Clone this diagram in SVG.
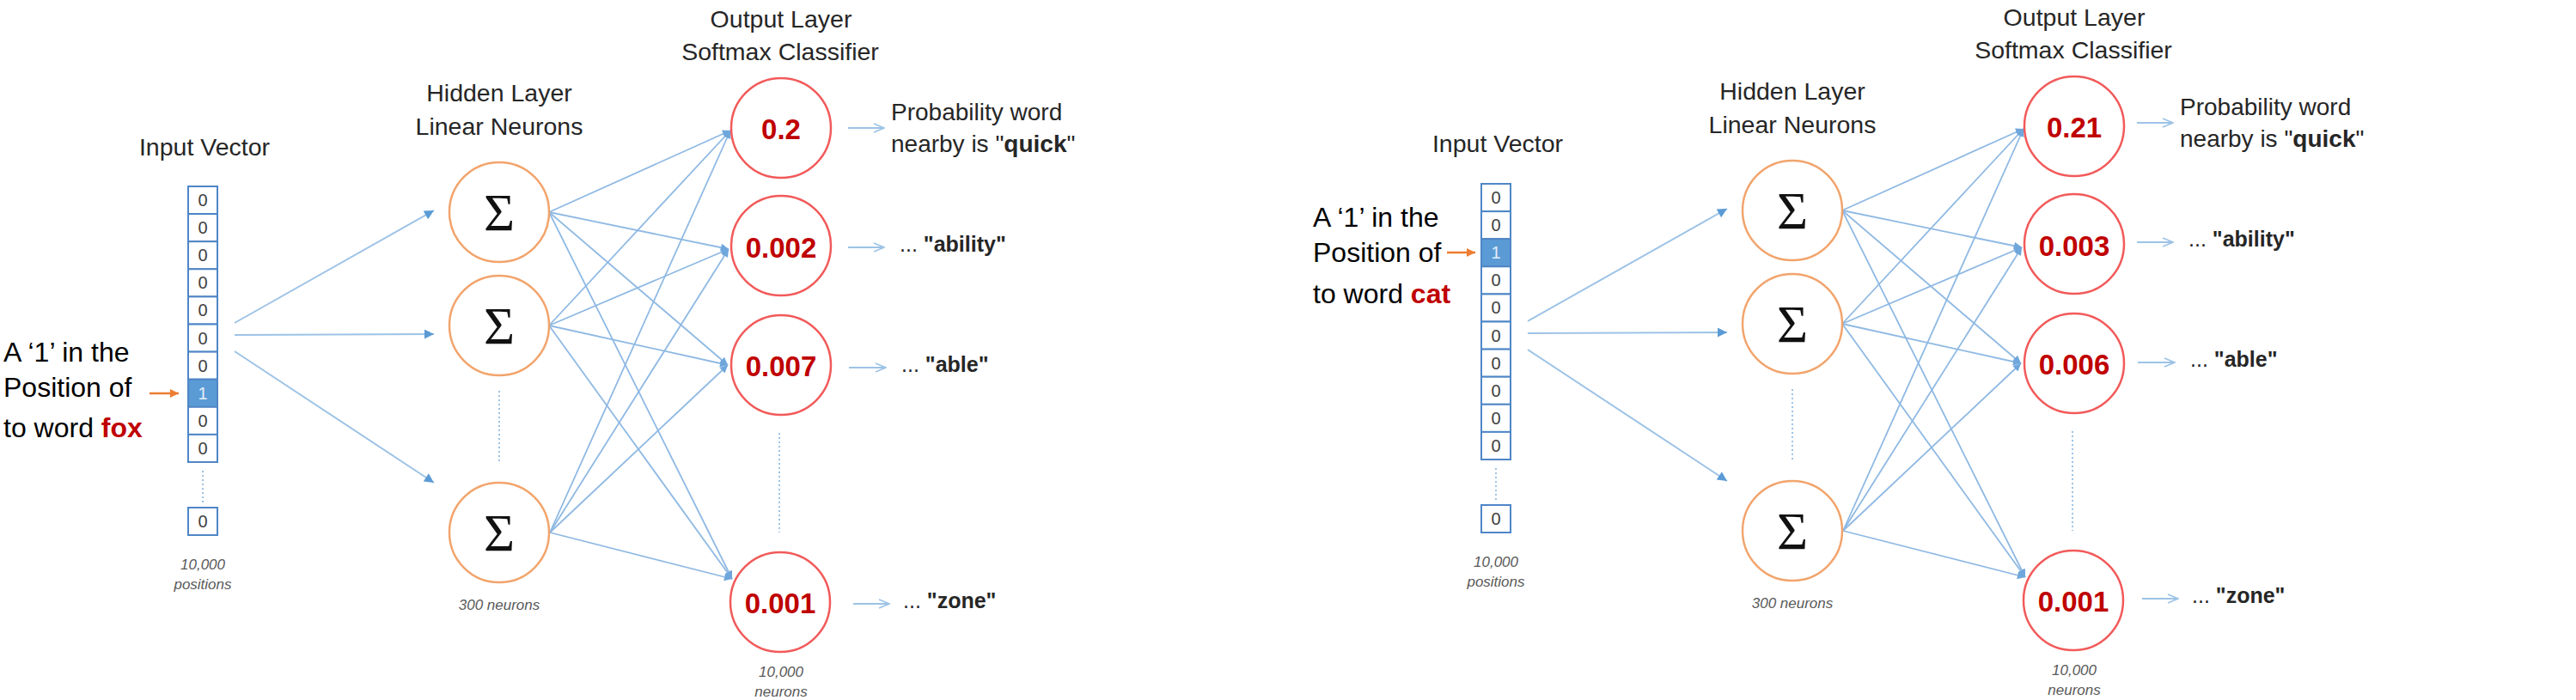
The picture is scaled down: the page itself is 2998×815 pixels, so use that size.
<svg xmlns="http://www.w3.org/2000/svg" width="2998" height="815" viewBox="0 0 2998 815">
<defs>
<style>
text{font-family:"Liberation Sans",Arial,sans-serif;}
.hdr{font-size:28.5px;fill:#262626;text-anchor:middle;}
.lbl{font-size:32px;fill:#000;}
.lbl2{font-size:28px;fill:#262626;}
.lbl3{font-size:25px;fill:#262626;}
.b{font-weight:bold;}
.red{fill:#C00000;font-weight:bold;}
.note{font-size:17px;font-style:italic;fill:#595959;text-anchor:middle;}
.cell{fill:#fff;stroke:#4F86C6;stroke-width:2;}
.cell1{fill:#5B9BD5;stroke:#4F86C6;stroke-width:2;}
.ct{font-size:20px;fill:#404040;text-anchor:middle;}
.ct1{font-size:20px;fill:#E3EEF9;text-anchor:middle;}
.hid{fill:#fff;stroke:#F2A46C;stroke-width:2.5;}
.out{fill:#fff;stroke:#F25A5A;stroke-width:2.5;}
.sig{font-family:"Liberation Serif","DejaVu Serif",serif;font-size:62px;fill:#111;text-anchor:middle;}
.val{font-size:33px;font-weight:bold;fill:#C00000;text-anchor:middle;}
.in{stroke:#9DC3E6;stroke-width:2;fill:none;marker-end:url(#tri);}
.hw{stroke:#8FB9E3;stroke-width:1.8;fill:none;marker-end:url(#tri-s);}
.oa{stroke:#9DC3E6;stroke-width:2;fill:none;marker-end:url(#open);}
.pt{stroke:#ED7D31;stroke-width:2.5;fill:none;marker-end:url(#orng);}
.dot{stroke:#9DC3E6;stroke-width:2;stroke-dasharray:2 3;fill:none;}
</style>
<marker id="tri" viewBox="0 0 10 10" refX="10" refY="5" markerWidth="14" markerHeight="11" markerUnits="userSpaceOnUse" orient="auto"><path d="M0,0 L10,5 L0,10 z" fill="#5B9BD5"/></marker>
<marker id="tri-s" viewBox="0 0 10 10" refX="10" refY="5" markerWidth="12" markerHeight="9" markerUnits="userSpaceOnUse" orient="auto"><path d="M0,0 L10,5 L0,10 z" fill="#6FA6DC"/></marker>
<marker id="open" viewBox="0 0 14 12" refX="13" refY="6" markerWidth="14" markerHeight="12" markerUnits="userSpaceOnUse" orient="auto"><path d="M1,1 L13,6 L1,11" fill="none" stroke="#9DC3E6" stroke-width="1.8"/></marker>
<marker id="orng" viewBox="0 0 10 10" refX="10" refY="5" markerWidth="12" markerHeight="10" markerUnits="userSpaceOnUse" orient="auto"><path d="M0,0 L10,5 L0,10 z" fill="#ED7D31"/></marker>
</defs>
<rect x="0" y="0" width="2998" height="815" fill="#fff"/>

<!-- connectors -->
<g id="connectors">
  <g id="connectors-left">
    <line class="pt" x1="174" y1="458" x2="208" y2="458"/>
    <line class="in" x1="273" y1="376" x2="505" y2="245"/>
    <line class="in" x1="273" y1="390" x2="505" y2="389"/>
    <line class="in" x1="273" y1="409" x2="505" y2="562"/>
    <line class="hw" x1="639" y1="247" x2="850" y2="152"/>
    <line class="hw" x1="639" y1="247" x2="848" y2="290"/>
    <line class="hw" x1="639" y1="247" x2="847" y2="425"/>
    <line class="hw" x1="639" y1="247" x2="852" y2="674"/>
    <line class="hw" x1="639" y1="379" x2="850" y2="152"/>
    <line class="hw" x1="639" y1="379" x2="848" y2="290"/>
    <line class="hw" x1="639" y1="379" x2="847" y2="425"/>
    <line class="hw" x1="639" y1="379" x2="852" y2="674"/>
    <line class="hw" x1="640" y1="620" x2="850" y2="152"/>
    <line class="hw" x1="640" y1="620" x2="848" y2="290"/>
    <line class="hw" x1="640" y1="620" x2="847" y2="425"/>
    <line class="hw" x1="640" y1="620" x2="852" y2="674"/>
    <line class="oa" x1="987" y1="149" x2="1029" y2="149"/>
    <line class="oa" x1="987" y1="288" x2="1029" y2="288"/>
    <line class="oa" x1="988" y1="428" x2="1031" y2="428"/>
    <line class="oa" x1="993" y1="703" x2="1035" y2="703"/>
  </g>
  <g id="connectors-right">
    <line class="pt" x1="1684" y1="294" x2="1717" y2="294"/>
    <g transform="translate(1505,-2)">
      <line class="in" x1="273" y1="376" x2="505" y2="245"/>
      <line class="in" x1="273" y1="390" x2="505" y2="389"/>
      <line class="in" x1="273" y1="409" x2="505" y2="562"/>
      <line class="hw" x1="639" y1="247" x2="850" y2="152"/>
      <line class="hw" x1="639" y1="247" x2="848" y2="290"/>
      <line class="hw" x1="639" y1="247" x2="847" y2="425"/>
      <line class="hw" x1="639" y1="247" x2="852" y2="674"/>
      <line class="hw" x1="639" y1="379" x2="850" y2="152"/>
      <line class="hw" x1="639" y1="379" x2="848" y2="290"/>
      <line class="hw" x1="639" y1="379" x2="847" y2="425"/>
      <line class="hw" x1="639" y1="379" x2="852" y2="674"/>
      <line class="hw" x1="640" y1="620" x2="850" y2="152"/>
      <line class="hw" x1="640" y1="620" x2="848" y2="290"/>
      <line class="hw" x1="640" y1="620" x2="847" y2="425"/>
      <line class="hw" x1="640" y1="620" x2="852" y2="674"/>
    </g>
    <g transform="translate(1500,-6)">
      <line class="oa" x1="987" y1="149" x2="1029" y2="149"/>
      <line class="oa" x1="987" y1="288" x2="1029" y2="288"/>
      <line class="oa" x1="988" y1="428" x2="1031" y2="428"/>
      <line class="oa" x1="993" y1="703" x2="1035" y2="703"/>
    </g>
  </g>
</g>

<!-- ===== LEFT PANEL ===== -->
<g id="L-label">
  <text class="lbl" x="4" y="421">A ‘1’ in the</text>
  <text class="lbl" x="4" y="462">Position of</text>
  <text class="lbl" x="4" y="509">to word <tspan class="red">fox</tspan></text>
</g>
<g id="L-input-vector">
  <text class="hdr" x="238" y="181">Input Vector</text>
  <rect class="cell" x="219" y="217" width="34" height="32.1"/>
  <rect class="cell" x="219" y="249.1" width="34" height="32.1"/>
  <rect class="cell" x="219" y="281.2" width="34" height="32.1"/>
  <rect class="cell" x="219" y="313.3" width="34" height="32.1"/>
  <rect class="cell" x="219" y="345.4" width="34" height="32.1"/>
  <rect class="cell" x="219" y="377.5" width="34" height="32.1"/>
  <rect class="cell" x="219" y="409.6" width="34" height="32.1"/>
  <rect class="cell1" x="219" y="441.7" width="34" height="32.1"/>
  <rect class="cell" x="219" y="473.8" width="34" height="32.1"/>
  <rect class="cell" x="219" y="505.9" width="34" height="32.1"/>
  <text class="ct" x="236" y="240">0</text>
  <text class="ct" x="236" y="272.1">0</text>
  <text class="ct" x="236" y="304.2">0</text>
  <text class="ct" x="236" y="336.3">0</text>
  <text class="ct" x="236" y="368.4">0</text>
  <text class="ct" x="236" y="400.5">0</text>
  <text class="ct" x="236" y="432.6">0</text>
  <text class="ct1" x="236" y="464.7">1</text>
  <text class="ct" x="236" y="496.8">0</text>
  <text class="ct" x="236" y="528.9">0</text>
  <line class="dot" x1="236" y1="548" x2="236" y2="585"/>
  <rect class="cell" x="219" y="591" width="34" height="32"/>
  <text class="ct" x="236" y="614">0</text>
  <text class="note" x="236" y="663">10,000</text>
  <text class="note" x="236" y="686">positions</text>
</g>
<g id="L-hidden-title">
  <text class="hdr" x="581" y="118">Hidden Layer</text>
  <text class="hdr" x="581" y="157">Linear Neurons</text>
</g>
<g id="L-h1"><circle class="hid" cx="581" cy="247" r="58"/><text class="sig" x="581" y="268">Σ</text></g>
<g id="L-h2"><circle class="hid" cx="581" cy="379" r="58"/><text class="sig" x="581" y="400">Σ</text></g>
<g id="L-h-ellipsis"><line class="dot" x1="581" y1="455" x2="581" y2="540"/></g>
<g id="L-h3"><circle class="hid" cx="581" cy="620" r="58"/><text class="sig" x="581" y="641">Σ</text>
  <text class="note" x="581" y="710">300 neurons</text></g>
<g id="L-output-title">
  <text class="hdr" x="909" y="32">Output Layer</text>
  <text class="hdr" x="908" y="70">Softmax Classifier</text>
</g>
<g id="L-o1"><circle class="out" cx="909" cy="149" r="58"/><text class="val" x="909" y="162">0.2</text></g>
<g id="L-o2"><circle class="out" cx="909" cy="286" r="58"/><text class="val" x="909" y="300">0.002</text></g>
<g id="L-o3"><circle class="out" cx="909" cy="425" r="58"/><text class="val" x="909" y="438">0.007</text></g>
<g id="L-o-ellipsis"><line class="dot" x1="907" y1="504" x2="907" y2="620"/></g>
<g id="L-o4"><circle class="out" cx="908" cy="701" r="58"/><text class="val" x="908" y="714">0.001</text>
  <text class="note" x="909" y="788">10,000</text>
  <text class="note" x="909" y="811">neurons</text></g>
<g id="L-out-labels">
  <text class="lbl2" x="1037" y="140">Probability word</text>
  <text class="lbl2" x="1037" y="177">nearby is "<tspan class="b">quick</tspan>"</text>
  <text class="lbl3" x="1047" y="293">... <tspan class="b">"ability"</tspan></text>
  <text class="lbl3" x="1049" y="433">... <tspan class="b">"able"</tspan></text>
  <text class="lbl3" x="1051" y="708">... <tspan class="b">"zone"</tspan></text>
</g>

<!-- ===== RIGHT PANEL ===== -->
<g id="R-label">
  <text class="lbl" x="1528" y="264">A ‘1’ in the</text>
  <text class="lbl" x="1528" y="305">Position of</text>
  <text class="lbl" x="1528" y="353">to word <tspan class="red">cat</tspan></text>
</g>
<g id="R-input-vector" transform="translate(1505,-3)">
  <text class="hdr" x="238" y="179.5">Input Vector</text>
  <rect class="cell" x="219" y="217" width="34" height="32.1"/>
  <rect class="cell" x="219" y="249.1" width="34" height="32.1"/>
  <rect class="cell1" x="219" y="281.2" width="34" height="32.1"/>
  <rect class="cell" x="219" y="313.3" width="34" height="32.1"/>
  <rect class="cell" x="219" y="345.4" width="34" height="32.1"/>
  <rect class="cell" x="219" y="377.5" width="34" height="32.1"/>
  <rect class="cell" x="219" y="409.6" width="34" height="32.1"/>
  <rect class="cell" x="219" y="441.7" width="34" height="32.1"/>
  <rect class="cell" x="219" y="473.8" width="34" height="32.1"/>
  <rect class="cell" x="219" y="505.9" width="34" height="32.1"/>
  <text class="ct" x="236" y="240">0</text>
  <text class="ct" x="236" y="272.1">0</text>
  <text class="ct1" x="236" y="304.2">1</text>
  <text class="ct" x="236" y="336.3">0</text>
  <text class="ct" x="236" y="368.4">0</text>
  <text class="ct" x="236" y="400.5">0</text>
  <text class="ct" x="236" y="432.6">0</text>
  <text class="ct" x="236" y="464.7">0</text>
  <text class="ct" x="236" y="496.8">0</text>
  <text class="ct" x="236" y="528.9">0</text>
  <line class="dot" x1="236" y1="548" x2="236" y2="585"/>
  <rect class="cell" x="219" y="591" width="34" height="32"/>
  <text class="ct" x="236" y="614">0</text>
  <text class="note" x="236" y="663">10,000</text>
  <text class="note" x="236" y="686">positions</text>
</g>
<g id="R-hidden-title" transform="translate(1505,-2)">
  <text class="hdr" x="581" y="118">Hidden Layer</text>
  <text class="hdr" x="581" y="157">Linear Neurons</text>
</g>
<g id="R-h1" transform="translate(1505,-2)"><circle class="hid" cx="581" cy="247" r="58"/><text class="sig" x="581" y="268">Σ</text></g>
<g id="R-h2" transform="translate(1505,-2)"><circle class="hid" cx="581" cy="379" r="58"/><text class="sig" x="581" y="400">Σ</text></g>
<g id="R-h-ellipsis" transform="translate(1505,-2)"><line class="dot" x1="581" y1="455" x2="581" y2="540"/></g>
<g id="R-h3" transform="translate(1505,-2)"><circle class="hid" cx="581" cy="620" r="58"/><text class="sig" x="581" y="641">Σ</text>
  <text class="note" x="581" y="710">300 neurons</text></g>
<g id="R-output-title" transform="translate(1505,-2)">
  <text class="hdr" x="909" y="32">Output Layer</text>
  <text class="hdr" x="908" y="70">Softmax Classifier</text>
</g>
<g id="R-o1" transform="translate(1505,-2)"><circle class="out" cx="909" cy="149" r="58"/><text class="val" x="909" y="162">0.21</text></g>
<g id="R-o2" transform="translate(1505,-2)"><circle class="out" cx="909" cy="286" r="58"/><text class="val" x="909" y="300">0.003</text></g>
<g id="R-o3" transform="translate(1505,-2)"><circle class="out" cx="909" cy="425" r="58"/><text class="val" x="909" y="438">0.006</text></g>
<g id="R-o-ellipsis" transform="translate(1505,-2)"><line class="dot" x1="907" y1="504" x2="907" y2="620"/></g>
<g id="R-o4" transform="translate(1505,-2)"><circle class="out" cx="908" cy="701" r="58"/><text class="val" x="908" y="714">0.001</text>
  <text class="note" x="909" y="788">10,000</text>
  <text class="note" x="909" y="811">neurons</text></g>
<g id="R-out-labels" transform="translate(1500,-6)">
  <text class="lbl2" x="1037" y="140">Probability word</text>
  <text class="lbl2" x="1037" y="177">nearby is "<tspan class="b">quick</tspan>"</text>
  <text class="lbl3" x="1047" y="293">... <tspan class="b">"ability"</tspan></text>
  <text class="lbl3" x="1049" y="433">... <tspan class="b">"able"</tspan></text>
  <text class="lbl3" x="1051" y="708">... <tspan class="b">"zone"</tspan></text>
</g>
</svg>
